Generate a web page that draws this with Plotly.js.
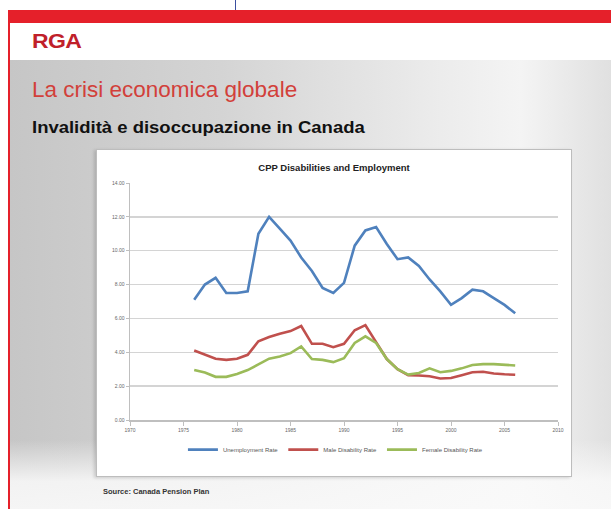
<!DOCTYPE html>
<html>
<head>
<meta charset="utf-8">
<script src="https://cdn.plot.ly/plotly-3.0.1.min.js"></script>
<style>
  html, body { margin:0; padding:0; width:611px; height:509px; overflow:hidden; background:#fff; }
  #slide { position:absolute; left:0; top:0; width:611px; height:509px; background:#fff; }
  #grad { position:absolute; left:10px; top:60px; width:601px; height:449px;
    background: linear-gradient(to right, #c6c6c6 0%, #d4d4d4 35%, #ebebeb 70%, #f4f4f4 85%, #e0e0e0 100%); }
  #gradb { position:absolute; left:10px; top:440px; width:601px; height:69px;
    background: linear-gradient(to bottom, rgba(255,255,255,0) 0%, rgba(250,250,250,0.85) 60%, rgba(250,250,250,0.9) 100%); }
  #topblue { position:absolute; left:235px; top:0; width:1px; height:10px; background:#3b4fa0; }
  #redbar { position:absolute; left:8px; top:10px; width:603px; height:13px; background:#e5202a; }
  #redleft { position:absolute; left:8px; top:10px; width:2px; height:499px; background:#e5202a; }
  #rga { position:absolute; left:32px; top:30px; font-family:"Liberation Sans", Arial, sans-serif; font-weight:bold; font-size:20px; color:#c0202a; letter-spacing:-0.5px; transform-origin:left top; transform:scaleX(1.15); }
  #h1 { position:absolute; left:32px; top:77px; font-family:"Liberation Sans", Arial, sans-serif; font-size:22.5px; color:#d2403a; white-space:nowrap; }
  #h2 { position:absolute; left:32px; top:118px; font-family:"Liberation Sans", Arial, sans-serif; font-weight:bold; font-size:16.5px; color:#111; white-space:nowrap; transform-origin:left top; transform:scaleX(1.12); }
  #src { position:absolute; left:103px; top:487px; font-family:"Liberation Sans", Arial, sans-serif; font-weight:bold; font-size:7.5px; color:#333; white-space:nowrap; }
  #chartbox { position:absolute; left:96px; top:149px; width:474px; height:326px; background:#fff; border:1px solid #bdbdbd; box-shadow: -2px 1px 3px rgba(0,0,0,0.15); }
  #chart { position:absolute; left:0; top:0; width:474px; height:326px; }
</style>
</head>
<body>
<div id="slide">
  <div id="grad"></div>
  <div id="gradb"></div>
  <div id="topblue"></div>
  <div id="redbar"></div>
  <div id="redleft"></div>
  <div id="rga">RGA</div>
  <div id="h1">La crisi economica globale</div>
  <div id="h2">Invalidità e disoccupazione in Canada</div>
  <div id="chartbox"><div id="chart"></div></div>
  <div id="src">Source: Canada Pension Plan</div>
</div>
<script>
const years = [1976,1977,1978,1979,1980,1981,1982,1983,1984,1985,1986,1987,1988,1989,1990,1991,1992,1993,1994,1995,1996,1997,1998,1999,2000,2001,2002,2003,2004,2005,2006];
const unemploymentRate = [7.1,8.0,8.4,7.5,7.5,7.6,11.0,12.0,11.3,10.6,9.6,8.8,7.8,7.5,8.1,10.3,11.2,11.4,10.4,9.5,9.6,9.1,8.3,7.6,6.8,7.2,7.7,7.6,7.2,6.8,6.3];
const maleDisabilityRate = [4.1,3.85,3.62,3.55,3.62,3.85,4.65,4.9,5.1,5.25,5.55,4.5,4.5,4.3,4.5,5.3,5.6,4.6,3.6,3.0,2.65,2.63,2.58,2.45,2.48,2.65,2.82,2.85,2.75,2.7,2.67];
const femaleDisabilityRate = [2.96,2.8,2.55,2.55,2.72,2.95,3.28,3.62,3.75,3.95,4.35,3.6,3.55,3.42,3.65,4.55,4.94,4.55,3.6,3.0,2.68,2.78,3.05,2.82,2.9,3.05,3.25,3.3,3.3,3.28,3.22];
const seriesNames = ["Unemployment Rate","Male Disability Rate","Female Disability Rate"];
const seriesColors = ["#4f81bd","#c0504d","#9bbb59"];
const xTicks = [1970,1975,1980,1985,1990,1995,2000,2005,2010];
const yTicks = [0,2,4,6,8,10,12,14];
const chartTitle = "CPP Disabilities and Employment";

const seriesValues = [unemploymentRate, maleDisabilityRate, femaleDisabilityRate];
const traces = seriesValues.map((v,i) => ({
  x: years, y: v, type: 'scatter', mode: 'lines', name: seriesNames[i],
  line: {color: seriesColors[i], width: 2.6}
}));

const layout = {
  width: 474, height: 326,
  margin: {l: 33, r: 13, t: 33, b: 41},
  paper_bgcolor: '#ffffff', plot_bgcolor: '#ffffff',
  title: {text: '<b>' + chartTitle + '</b>', font: {family: 'Liberation Sans, Arial, sans-serif', size: 9.5, color: '#222'}, x: 0.5, xanchor: 'center', y: 0.947, yanchor: 'middle'},
  showlegend: true,
  legend: {orientation: 'h', x: 0.48, xanchor: 'center', y: -0.125, yanchor: 'middle',
    font: {family: 'Liberation Sans, Arial, sans-serif', size: 6, color: '#555'}, itemwidth: 30, tracegroupgap: 0},
  xaxis: {range: [1970, 2010], tickvals: xTicks, ticktext: xTicks.map(String), showgrid: false, zeroline: false,
    showline: true, linecolor: '#bfbfbf', linewidth: 1.5, ticks: 'outside', ticklen: 4, tickcolor: '#bfbfbf',
    tickfont: {family: 'Liberation Sans, Arial, sans-serif', size: 5, color: '#666'}, fixedrange: true},
  yaxis: {range: [0, 14], tickvals: yTicks, ticktext: yTicks.map(v => v.toFixed(2)), showgrid: true, gridcolor: '#d4d4d4', gridwidth: 1.5,
    zeroline: false, showline: true, linecolor: '#bfbfbf', linewidth: 1.5, ticks: 'outside', ticklen: 3, tickcolor: '#bfbfbf',
    tickfont: {family: 'Liberation Sans, Arial, sans-serif', size: 5, color: '#666'}, fixedrange: true}
};
Plotly.newPlot('chart', traces, layout, {displayModeBar: false, staticPlot: true});
</script>
</body>
</html>
